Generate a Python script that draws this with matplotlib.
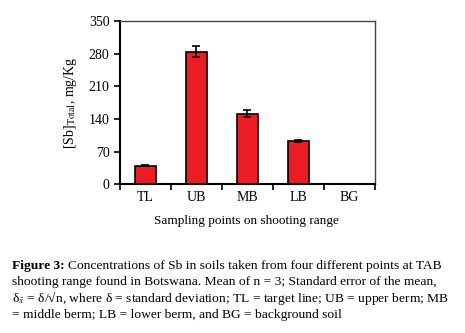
import numpy as np
import matplotlib.pyplot as plt
from matplotlib.ticker import FixedLocator

plt.rcParams['font.family'] = ['Liberation Serif', 'DejaVu Serif']
plt.rcParams['mathtext.fontset'] = 'stix'

# data
sites = ['TL', 'UB', 'MB', 'LB', 'BG']
sb_total = [40, 284, 151, 93, 1]
sb_err = [2, 12, 8, 2, 0]

fig = plt.figure(figsize=(4.65, 3.33), dpi=100)
ax = fig.add_axes([0.258, 0.447, 0.548, 0.49])

x = np.arange(len(sites))
ax.bar(x, sb_total, width=0.4, color='#ED1C24', edgecolor='black', linewidth=1.2,
       yerr=sb_err, capsize=3, error_kw={'elinewidth': 1.2, 'capthick': 1.2})

ax.set_xlim(-0.5, len(sites) - 0.5)
ax.set_ylim(0, 350)
ax.set_yticks([0, 70, 140, 210, 280, 350])
ax.set_xticks(x)
ax.set_xticklabels(sites, fontsize=10)
ax.tick_params(axis='x', which='major', length=0, pad=5)
ax.xaxis.set_minor_locator(FixedLocator(np.arange(-0.5, len(sites), 1.0)))
ax.tick_params(axis='x', which='minor', length=4, width=1.2, direction='out')
ax.tick_params(axis='y', labelsize=10, length=4, width=1.2, direction='out')

for side in ['top', 'right']:
    ax.spines[side].set_color('#444444')
    ax.spines[side].set_linewidth(1.0)
for side in ['left', 'bottom']:
    ax.spines[side].set_linewidth(1.5)

ax.set_ylabel('[Sb]$_{\\mathrm{Total}}$, mg/Kg', fontsize=10, labelpad=7)
fig.text(0.531, 0.336, 'Sampling points on shooting range', ha='center', va='center', fontsize=9.5)

# caption
cap_fs = 9.7
base = 0.192
step = 0.049
t = fig.text(0.026, base, 'Figure 3:', fontsize=cap_fs, fontweight='bold', va='baseline')
fig.canvas.draw()
bb = t.get_window_extent()
fig.text(bb.x1 / fig.bbox.width + 0.006, base,
         'Concentrations of Sb in soils taken from four different points at TAB',
         fontsize=cap_fs, va='baseline')
lines = [
    'shooting range found in Botswana. Mean of n = 3; Standard error of the mean,',
    'δ$_{\\bar{x}}$ = δ/√n, where δ = standard deviation; TL = target line; UB = upper berm; MB',
    '= middle berm; LB = lower berm, and BG = background soil',
]
for i, s in enumerate(lines):
    fig.text(0.026, base - step * (i + 1), s, fontsize=cap_fs, va='baseline')

fig.savefig('out.png', dpi=100)
